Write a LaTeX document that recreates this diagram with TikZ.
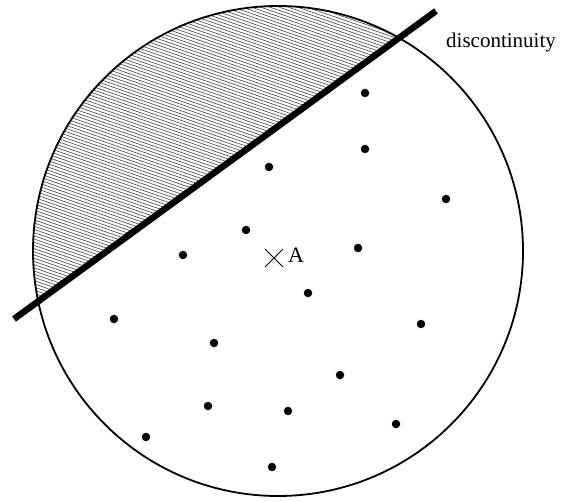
\documentclass[tikz,border=0pt]{standalone}
\usepackage{fontspec}
\setmainfont{Liberation Serif}
\usetikzlibrary{calc}
\begin{document}
\begin{tikzpicture}[x=1pt,y=-1pt,
  dotnode/.style={circle,fill=black,inner sep=0pt,minimum size=8.5pt},
  hatchline/.style={black!65,line width=0.7pt},
  bigcircle/.style={line width=1.8pt},
  crack/.style={line width=6.5pt,line cap=butt}]
\useasboundingbox (0,0) rectangle (577,502);
\coordinate (C) at (278,251);
\coordinate (L1) at (14,319);
\coordinate (L2) at (436,11);
% hatched cap above the discontinuity
\begin{scope}
  \clip (C) circle (245);
  \clip (-50,365.7) -- (500,-35.4) -- (-50,-35.4) -- cycle;
  \foreach \c in {-240,-236.8,...,340} {
    \draw[hatchline] (0,\c) -- (577,\c+200);
  }
\end{scope}
\draw[bigcircle] (C) circle (245);
\draw[crack] (L1) -- (L2);
\node[anchor=west,font=\fontsize{21}{23}\selectfont,inner sep=0pt] (disc) at (446,42) {discontinuity};
% centre point A
\coordinate (X) at (274,258);
\draw[line width=0.8pt] ($(X)+(-9,-9)$) -- ($(X)+(9,9)$) ($(X)+(-9,9)$) -- ($(X)+(9,-9)$);
\node[anchor=west,font=\fontsize{22}{24}\selectfont,inner sep=0pt] (A) at (288,255) {A};
% sample points
\foreach \n/\x/\y in {1/365/93,2/365/149,3/269/167,4/446/199,5/246/230,6/183/255,7/358/248,8/308/293,9/114/319,10/421/324,11/214/343,12/340/375,13/208/406,14/288/411,15/146/437,16/396/424,17/272/467} {
  \node[dotnode] (d\n) at (\x,\y) {};
}
\end{tikzpicture}
\end{document}
